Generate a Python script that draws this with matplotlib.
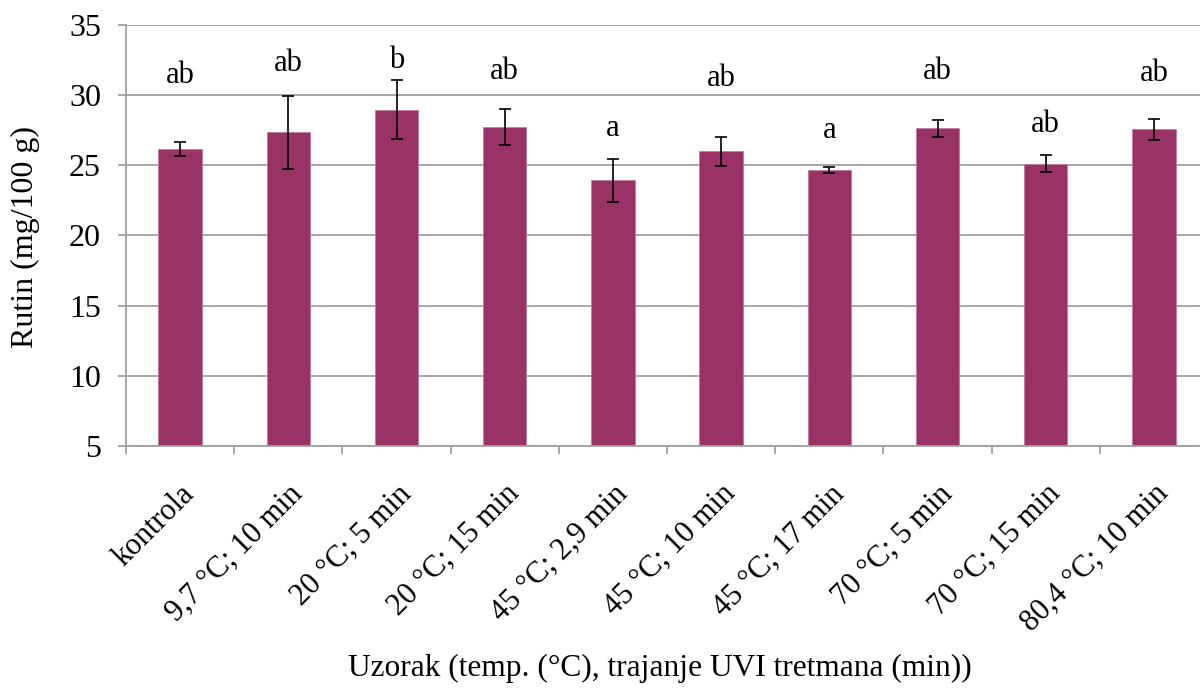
import matplotlib.pyplot as plt
import numpy as np

categories = ['kontrola', '9,7 °C; 10 min', '20 °C; 5 min', '20 °C; 15 min',
              '45 °C; 2,9 min', '45 °C; 10 min', '45 °C; 17 min', '70 °C; 5 min',
              '70 °C; 15 min', '80,4 °C; 10 min']
values = [26.16, 27.32, 28.93, 27.70, 23.90, 25.97, 24.64, 27.60, 25.09, 27.53]
errors = [0.50, 2.60, 2.10, 1.30, 1.50, 1.03, 0.23, 0.60, 0.60, 0.72]
letters = ['ab', 'ab', 'b', 'ab', 'a', 'ab', 'a', 'ab', 'ab', 'ab']
letter_y = [30.83, 31.71, 31.90, 31.14, 27.03, 30.59, 26.92, 31.14, 27.35, 30.95]
yticks = [5, 10, 15, 20, 25, 30, 35]

plt.rcParams['font.family'] = ['Liberation Serif', 'DejaVu Serif']

fig = plt.figure(figsize=(12, 6.89), dpi=100)
ax = fig.add_axes([126/1200, 1-446/689, (1208-126)/1200, (446-24.5)/689])

x = np.arange(len(categories))
grid_c = '#a0a0a0'
ax.set_axisbelow(True)
ax.yaxis.grid(True, color=grid_c, linewidth=1.3)
ax.bar(x, values, width=0.4, color='#993366', edgecolor='#c27ba0', linewidth=0.6, zorder=2)
ax.errorbar(x, values, yerr=errors, fmt='none', ecolor='black', elinewidth=1.2,
            capsize=4.5, capthick=1.2, zorder=3)
for xi, lab, ly in zip(x, letters, letter_y):
    ax.text(xi, ly, lab, ha='center', va='baseline', fontsize=22, zorder=4)

ax.set_xlim(-0.5, len(categories) - 0.5)
ax.set_ylim(5, 35)
ax.set_yticks(yticks)
ax.set_yticklabels([str(t) for t in yticks], fontsize=23)
ax.set_xticks(x)
ax.set_xticklabels(categories, rotation=45, ha='right', rotation_mode='anchor', fontsize=22)
ax.set_xticks(np.arange(len(categories) + 1) - 0.5, minor=True)
ax.tick_params(axis='x', which='major', length=0, pad=24)
ax.tick_params(axis='x', which='minor', length=6, width=1.3, color=grid_c, direction='out')
ax.tick_params(axis='y', length=6, width=1.3, color=grid_c, direction='out', pad=12)

for s in ['top', 'right']:
    ax.spines[s].set_visible(False)
for s in ['left', 'bottom']:
    ax.spines[s].set_color(grid_c)
    ax.spines[s].set_linewidth(1.3)

fig.text(25/1200, 1-237/689, 'Rutin (mg/100 g)', rotation=90,
         ha='center', va='center', fontsize=23)
fig.text(660/1200, 1-668/689, 'Uzorak (temp. (°C), trajanje UVI tretmana (min))',
         ha='center', va='center', fontsize=22.6)

fig.savefig('out.png', dpi=100)
